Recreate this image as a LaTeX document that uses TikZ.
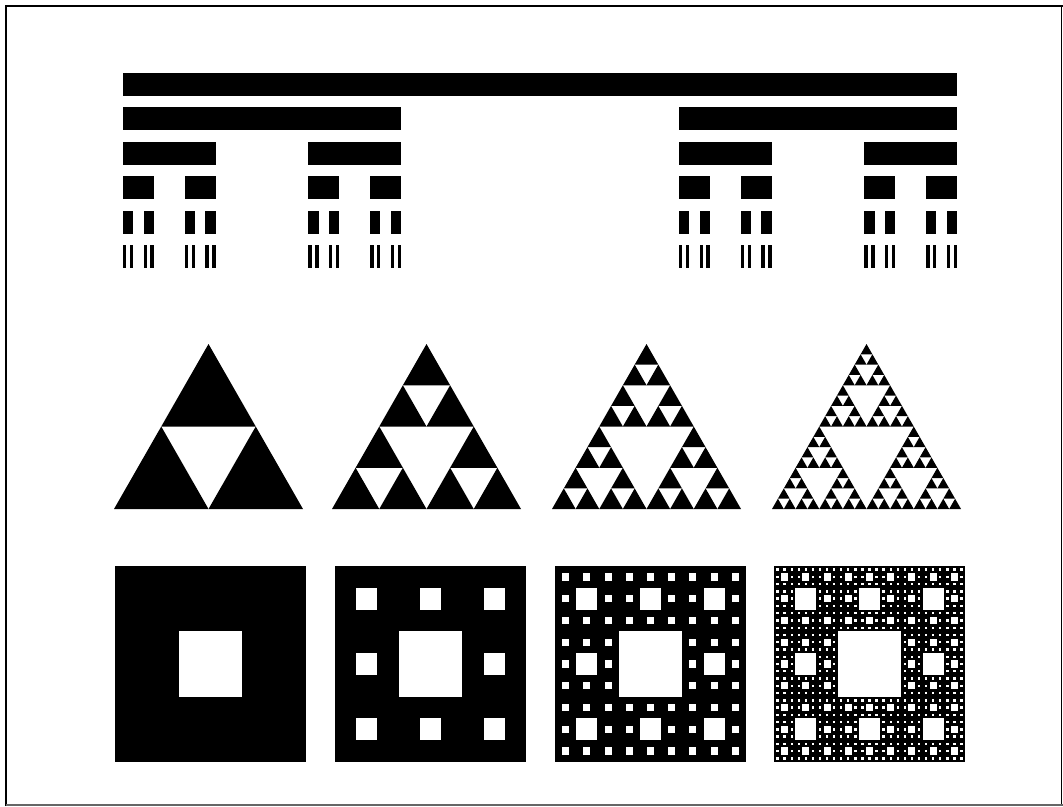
\documentclass[tikz,border=0pt]{standalone}
\usepackage{tikz}

% Cantor set: one bar per call, then the two outer thirds one row lower
\newcommand\cantorbar[3]{%
  \fill[ink] (#1,{73+34.4*#3}) rectangle ++(#2,23);
  \ifnum#3<5\relax
    \begingroup
    \pgfmathsetmacro\cantW{#2/3}%
    \pgfmathsetmacro\cantX{#1+2*#2/3}%
    \pgfmathtruncatemacro\cantL{#3+1}%
    \edef\cantDo{\noexpand\cantorbar{#1}{\cantW}{\cantL}\noexpand\cantorbar{\cantX}{\cantW}{\cantL}}%
    \cantDo
    \endgroup
  \fi}

% Sierpinski triangle: base-left corner, width, height, depth
\newcommand\sierptri[5]{%
  \ifnum#5=0\relax
    \fill[ink] (#1,#2) -- ++(#3,0) -- ++({-#3/2},{-#4}) -- cycle;
  \else
    \begingroup
    \pgfmathsetmacro\triW{#3/2}%
    \pgfmathsetmacro\triH{#4/2}%
    \pgfmathsetmacro\triX{#1+#3/2}%
    \pgfmathsetmacro\triM{#1+#3/4}%
    \pgfmathsetmacro\triY{#2-#4/2}%
    \pgfmathtruncatemacro\triD{#5-1}%
    \edef\triDo{\noexpand\sierptri{#1}{#2}{\triW}{\triH}{\triD}%
      \noexpand\sierptri{\triX}{#2}{\triW}{\triH}{\triD}%
      \noexpand\sierptri{\triM}{\triY}{\triW}{\triH}{\triD}}%
    \triDo
    \endgroup
  \fi}

% Sierpinski carpet holes: top-left corner, width, height, depth
\newcommand\carpetholes[5]{%
  \begingroup
  \pgfmathsetmacro\carW{#3/3}%
  \pgfmathsetmacro\carH{#4/3}%
  \fill[paper] ({#1+\carW},{#2+\carH}) rectangle ++(\carW,\carH);
  \ifnum#5>1\relax
    \pgfmathtruncatemacro\carD{#5-1}%
    \foreach \i in {0,1,2}{
      \foreach \j in {0,1,2}{
        \ifnum\i\j=11\relax\else
          \pgfmathsetmacro\carX{#1+\i*\carW}%
          \pgfmathsetmacro\carY{#2+\j*\carH}%
          \edef\carDo{\noexpand\carpetholes{\carX}{\carY}{\carW}{\carH}{\carD}}%
          \carDo
        \fi
      }
    }
  \fi
  \endgroup}

\begin{document}
\begin{tikzpicture}[
  x=1pt,y=-1pt,
  ink/.style={fill=black},
  paper/.style={fill=white},
  frame/.style={draw=black,line width=2.5pt}]
  \useasboundingbox (0,0) rectangle (1063,806);
  % outer frame
  \draw[frame] (6,806) -- (6,6) -- (1063,6);
  \draw[black,line width=1.2pt] (1061.5,6) -- (1061.5,805);
  \draw[black!60,line width=1.2pt] (6,805) -- (1063,805);
  % Cantor set, six rows
  \cantorbar{123}{834}{0}
  % Sierpinski triangles, depth 1 to 4
  \foreach \d/\bx in {1/114,2/332,3/552,4/772}{
    \sierptri{\bx}{509}{189}{165}{\d}
  }
  % Sierpinski carpets, depth 1 to 4
  \foreach \d/\bx in {1/115,2/335,3/555,4/774}{
    \fill[ink] (\bx,566) rectangle ++(191,196);
    \carpetholes{\bx}{566}{191}{196}{\d}
  }
\end{tikzpicture}
\end{document}
